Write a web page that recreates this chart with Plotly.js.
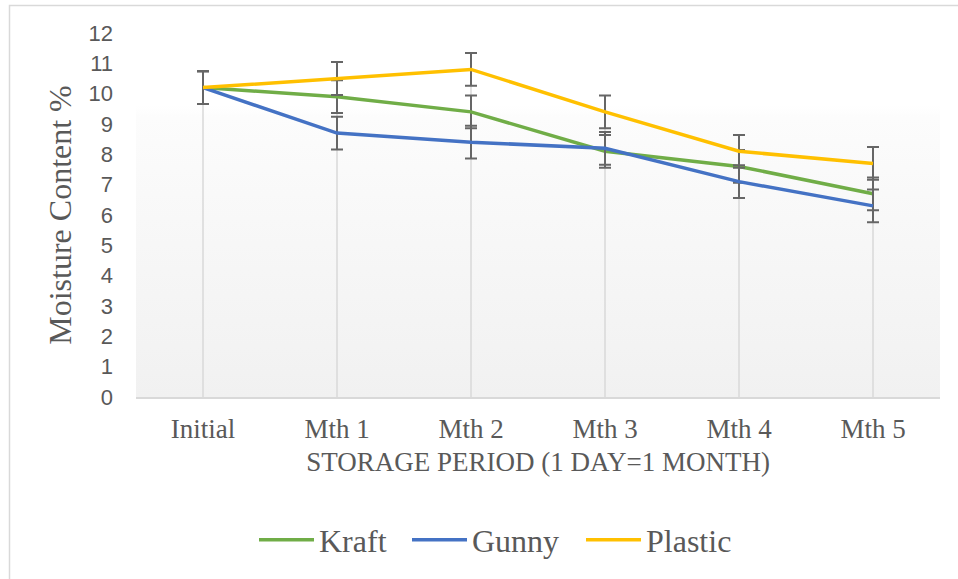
<!DOCTYPE html>
<html>
<head>
<meta charset="utf-8">
<script src="https://cdn.plot.ly/plotly-3.0.1.min.js"></script>
<style>
html,body{margin:0;padding:0;background:#fff;}
#chart{width:958px;height:579px;}
</style>
</head>
<body>
<div id="chart"></div>
<script>
// ---- data ----
var categories = ["Initial", "Mth 1", "Mth 2", "Mth 3", "Mth 4", "Mth 5"];
var kraft   = [10.2, 9.9, 9.4, 8.1, 7.6, 6.7];
var gunny   = [10.2, 8.7, 8.4, 8.2, 7.1, 6.3];
var plastic = [10.2, 10.5, 10.8, 9.4, 8.1, 7.7];
var kraftErr   = [0.54, 0.54, 0.54, 0.54, 0.54, 0.54];
var gunnyErr   = [0.54, 0.54, 0.54, 0.54, 0.54, 0.54];
var plasticErr = [0.54, 0.54, 0.54, 0.54, 0.54, 0.54];
var yTicks = [0,1,2,3,4,5,6,7,8,9,10,11,12];

// drop lines from the axis to the highest point of each category
var dropX = [], dropY = [];
categories.forEach(function(c, i){
  dropX.push(c, c, null);
  dropY.push(0, Math.max(kraft[i], gunny[i], plastic[i]), null);
});

var serif = "'Liberation Serif', 'Times New Roman', serif";
var sans = "'Liberation Sans', Arial, sans-serif";
var grey = "#595959";

function errObj(arr){
  return {type:"data", array:arr, visible:true, color:"#666666", thickness:2, width:6};
}

var traces = [
  {x:dropX, y:dropY, mode:"lines", line:{color:"#d9d9d9", width:1.5},
   showlegend:false, hoverinfo:"skip"},
  {x:categories, y:kraft, name:"Kraft", mode:"lines", legend:"legend",
   line:{color:"#70AD47", width:3.5}, error_y:errObj(kraftErr)},
  {x:categories, y:gunny, name:"Gunny", mode:"lines", legend:"legend2",
   line:{color:"#4472C4", width:3.5}, error_y:errObj(gunnyErr)},
  {x:categories, y:plastic, name:"Plastic", mode:"lines", legend:"legend3",
   line:{color:"#FFC000", width:3.5}, error_y:errObj(plasticErr)}
];

var gradSvg = '<svg xmlns="http://www.w3.org/2000/svg" width="100" height="100" preserveAspectRatio="none">' +
  '<defs><linearGradient id="g" x1="0" y1="0" x2="0" y2="1">' +
  '<stop offset="0" stop-color="#ffffff"/>' +
  '<stop offset="0.2" stop-color="#ffffff"/>' +
  '<stop offset="0.23" stop-color="#fcfcfc"/>' +
  '<stop offset="1" stop-color="#f1f1f1"/>' +
  '</linearGradient></defs><rect width="100" height="100" fill="url(#g)"/></svg>';

function legendAt(px){
  return {
    orientation:"h", x:(px-136)/804, xanchor:"left",
    y:(397-540)/364, yanchor:"middle",
    font:{family:serif, size:32, color:grey},
    itemwidth:55, bgcolor:"rgba(0,0,0,0)", borderwidth:0
  };
}

var layout = {
  width:958, height:579,
  margin:{l:136, r:18, t:33, b:182, pad:0},
  paper_bgcolor:"#ffffff",
  plot_bgcolor:"rgba(0,0,0,0)",
  showlegend:true,
  xaxis:{
    type:"category", range:[-0.5, 5.5],
    showgrid:false, zeroline:false,
    showline:true, linecolor:"#d9d9d9", linewidth:1.5,
    ticks:"", ticklabelstandoff:7,
    tickfont:{family:serif, size:27, color:grey},
    title:{text:"STORAGE PERIOD (1 DAY=1 MONTH)", font:{family:serif, size:27, color:grey}, standoff:9},
    fixedrange:true
  },
  yaxis:{
    range:[0, 12], tickvals:yTicks, ticktext:yTicks.map(String),
    showgrid:false, zeroline:false, showline:false,
    ticks:"", ticklabelstandoff:22,
    tickfont:{family:sans, size:22, color:grey},
    title:{text:"Moisture Content %", font:{family:serif, size:32, color:grey}, standoff:7},
    fixedrange:true
  },
  legend:legendAt(254),
  legend2:legendAt(407),
  legend3:legendAt(581),
  images:[{
    source:"data:image/svg+xml;charset=utf-8," + encodeURIComponent(gradSvg),
    xref:"paper", yref:"paper", x:0, y:1, sizex:1, sizey:1,
    sizing:"stretch", xanchor:"left", yanchor:"top", layer:"below"
  }],
  shapes:[{
    type:"rect", xref:"paper", yref:"paper",
    x0:(9.5-136)/804, x1:(962-136)/804,
    y0:(397-585)/364, y1:(397-5.5)/364,
    line:{color:"#d9d9d9", width:1.5}, fillcolor:"rgba(0,0,0,0)", layer:"below"
  }]
};

Plotly.newPlot("chart", traces, layout, {displayModeBar:false, staticPlot:true});
</script>
</body>
</html>
